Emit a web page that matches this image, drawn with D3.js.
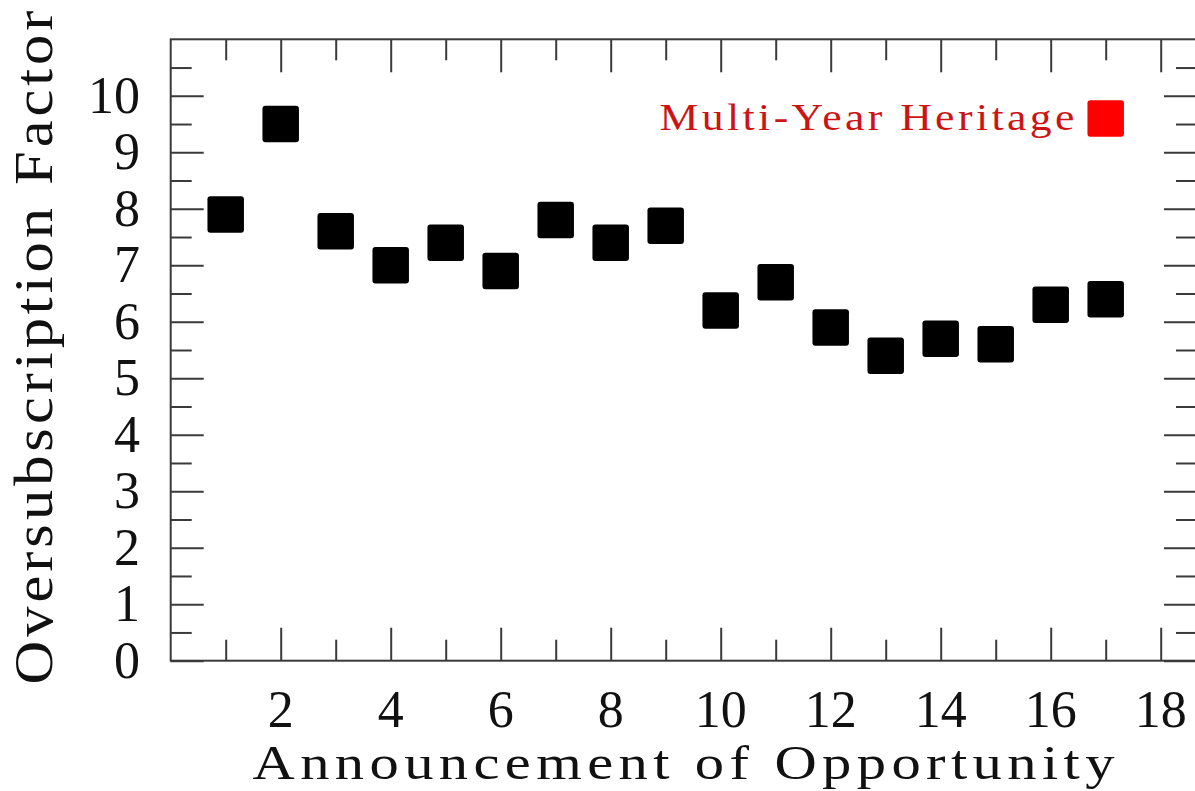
<!DOCTYPE html>
<html>
<head>
<meta charset="utf-8">
<script src="https://cdn.jsdelivr.net/npm/d3@7"></script>
<style>
  html, body { margin: 0; padding: 0; background: #fff; }
  svg { display: block; }
  text { font-family: "Liberation Serif", "Times New Roman", serif; }
</style>
</head>
<body>
<script>
// Oversubscription factor for each Announcement of Opportunity
const aoNumbers = [1, 2, 3, 4, 5, 6, 7, 8, 9, 10, 11, 12, 13, 14, 15, 16, 17];
const oversubscription = [7.9, 9.5, 7.6, 7.0, 7.4, 6.9, 7.8, 7.4, 7.7, 6.2, 6.7, 5.9, 5.4, 5.7, 5.6, 6.3, 6.4];

// Axis ticks
const xMajorTicks = [2, 4, 6, 8, 10, 12, 14, 16, 18];
const xMinorTicks = [1, 3, 5, 7, 9, 11, 13, 15, 17];
const yMajorTicks = [0, 1, 2, 3, 4, 5, 6, 7, 8, 9, 10];
const yMinorTicks = [0.5, 1.5, 2.5, 3.5, 4.5, 5.5, 6.5, 7.5, 8.5, 9.5, 10.5];

// Legend entry
const legendLabel = "Multi-Year Heritage";
const legendPoint = { x: 17, y: 9.6 };

const W = 1195, H = 791;
const frame = { left: 170.7, right: 1197, top: 39.3, bottom: 660.7 };

const svg = d3.select("body").append("svg")
  .attr("width", W).attr("height", H);

const x = d3.scaleLinear().domain([0, 18.66]).range([frame.left, frame.right]);
const y = d3.scaleLinear().domain([0, 11]).range([frame.bottom, frame.top]);

const axisColor = "#3a3a3a";
const majorLen = 33, minorLen = 21;

// Frame box
svg.append("rect")
  .attr("x", frame.left).attr("y", frame.top)
  .attr("width", frame.right - frame.left)
  .attr("height", frame.bottom - frame.top)
  .attr("fill", "none").attr("stroke", axisColor).attr("stroke-width", 2);

// Tick marks on all four sides, pointing inward
function tickAxis(axisFn, scale, values, len, transform) {
  const g = svg.append("g").attr("transform", transform)
    .call(axisFn(scale).tickValues(values).tickSize(-len).tickFormat(""));
  g.select(".domain").remove();
  g.selectAll(".tick line").attr("stroke", axisColor).attr("stroke-width", 2);
  return g;
}
tickAxis(d3.axisBottom, x, xMajorTicks, majorLen, `translate(0,${frame.bottom})`);
tickAxis(d3.axisBottom, x, xMinorTicks, minorLen, `translate(0,${frame.bottom})`);
tickAxis(d3.axisTop, x, xMajorTicks, majorLen, `translate(0,${frame.top})`);
tickAxis(d3.axisTop, x, xMinorTicks, minorLen, `translate(0,${frame.top})`);
tickAxis(d3.axisLeft, y, yMajorTicks, majorLen, `translate(${frame.left},0)`);
tickAxis(d3.axisLeft, y, yMinorTicks, minorLen, `translate(${frame.left},0)`);
tickAxis(d3.axisRight, y, yMajorTicks, majorLen, `translate(${frame.right},0)`);
tickAxis(d3.axisRight, y, yMinorTicks, minorLen, `translate(${frame.right},0)`);

// Tick labels
const labelSize = 52;
svg.append("g").selectAll("text").data(xMajorTicks).join("text")
  .attr("x", d => x(d)).attr("y", 727)
  .attr("text-anchor", "middle")
  .attr("font-size", labelSize).attr("fill", "#111")
  .text(d => d);

svg.append("g").selectAll("text").data(yMajorTicks).join("text")
  .attr("x", 140).attr("y", d => y(d) + 17)
  .attr("text-anchor", "end")
  .attr("font-size", labelSize).attr("fill", "#111")
  .text(d => d);

// Wide-set label: glyphs widened by sx, remaining width taken up by letter spacing
function wideText(transform, sx, anchor, size, len, color, str) {
  const g = svg.append("g").attr("transform", `${transform} scale(${sx},1)`);
  return g.append("text")
    .attr("x", 0).attr("y", 0)
    .attr("text-anchor", anchor)
    .attr("font-size", size).attr("fill", color)
    .attr("textLength", len / sx).attr("lengthAdjust", "spacing")
    .text(str);
}

// Axis titles
wideText("translate(683.5,779)", 1.22, "middle", 48, 862, "#111",
  "Announcement of Opportunity");
wideText("translate(52,347.5) rotate(-90)", 1.1, "middle", 55, 674, "#111",
  "Oversubscription Factor");

// Data points
const sq = 36.5;
svg.append("g").selectAll("rect").data(aoNumbers).join("rect")
  .attr("x", d => x(d) - sq / 2)
  .attr("y", (d, i) => y(oversubscription[i]) - sq / 2)
  .attr("width", sq).attr("height", sq)
  .attr("rx", 3).attr("fill", "#000");

// Legend
svg.append("rect")
  .attr("x", x(legendPoint.x) - sq / 2).attr("y", y(legendPoint.y) - sq / 2)
  .attr("width", sq).attr("height", sq).attr("rx", 3)
  .attr("fill", "#ff0000");
wideText(`translate(${x(legendPoint.x) - sq / 2 - 13},${y(legendPoint.y) + 12})`,
  1.15, "end", 38, 415, "#cc1414", legendLabel);
</script>
</body>
</html>
